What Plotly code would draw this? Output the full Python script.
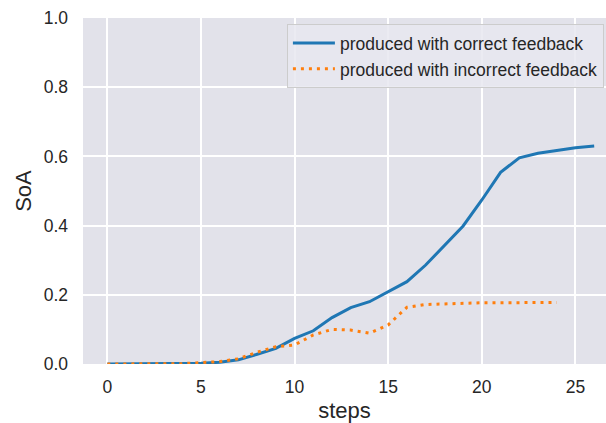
import plotly.graph_objects as go

steps_correct = list(range(0, 27))
soa_correct = [0.0, 0.0, 0.0, 0.0, 0.0, 0.002, 0.005, 0.012, 0.028, 0.045,
               0.074, 0.096, 0.134, 0.163, 0.180, 0.209, 0.238, 0.286, 0.341,
               0.399, 0.474, 0.554, 0.596, 0.609, 0.617, 0.625, 0.630]

steps_incorrect = list(range(0, 25))
soa_incorrect = [0.0, 0.0, 0.0, 0.0, 0.001, 0.004, 0.007, 0.015, 0.034, 0.050,
                 0.055, 0.084, 0.100, 0.098, 0.089, 0.113, 0.164, 0.172, 0.174,
                 0.176, 0.177, 0.177, 0.178, 0.178, 0.178]

x_ticks = [0, 5, 10, 15, 20, 25]
y_ticks = [0.0, 0.2, 0.4, 0.6, 0.8, 1.0]
y_tick_labels = ["0.0", "0.2", "0.4", "0.6", "0.8", "1.0"]

FONT = "Liberation Sans, Arial, sans-serif"
TXT = "#262626"

fig = go.Figure()
fig.add_trace(go.Scatter(x=steps_correct, y=soa_correct, mode="lines",
                         name="produced with correct feedback",
                         line=dict(color="#1f77b4", width=3)))
fig.add_trace(go.Scatter(x=steps_incorrect, y=soa_incorrect, mode="lines",
                         name="produced with incorrect feedback",
                         line=dict(color="#ff7f0e", width=3, dash="3px,5px")))

fig.update_layout(
    width=606, height=423,
    margin=dict(l=83, r=0, t=18, b=59),
    paper_bgcolor="white",
    plot_bgcolor="#E2E2EA",
    font=dict(family=FONT, size=17.5, color=TXT),
    showlegend=True,
    legend=dict(x=0.996, y=0.982, xanchor="right", yanchor="top",
                bgcolor="rgba(232,232,240,0.85)",
                bordercolor="#CCCCCC", borderwidth=1,
                font=dict(family=FONT, size=17.5, color=TXT),
                itemwidth=42, tracegroupgap=0),
)
fig.update_xaxes(range=[-1.3, 26.63], tickvals=x_ticks, showgrid=True,
                 gridcolor="white", gridwidth=1.5, zeroline=False,
                 showline=False, ticks="", ticklabelstandoff=10,
                 tickfont=dict(size=17.5, color=TXT),
                 title=dict(text="steps", font=dict(size=22, color=TXT), standoff=9))
fig.update_yaxes(range=[0, 1.0], tickvals=y_ticks, ticktext=y_tick_labels,
                 showgrid=True, gridcolor="white", gridwidth=1.5,
                 zeroline=False, showline=False, ticks="",
                 ticklabelstandoff=14,
                 tickfont=dict(size=17.5, color=TXT),
                 title=dict(text="SoA", font=dict(size=22, color=TXT), standoff=5))

fig.write_html("out.html")
